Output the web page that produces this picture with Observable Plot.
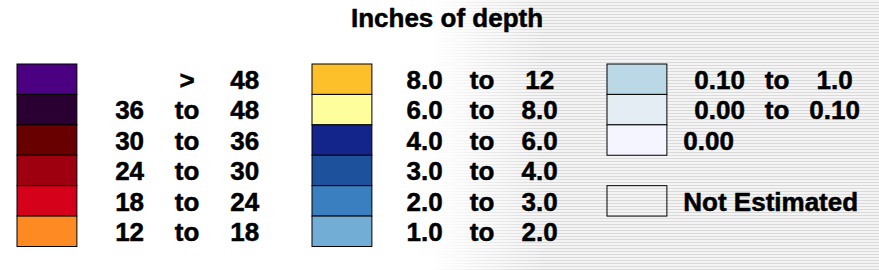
<!DOCTYPE html>
<html>
<head>
<meta charset="utf-8">
<script src="https://cdn.jsdelivr.net/npm/d3@7"></script>
<script src="https://cdn.jsdelivr.net/npm/@observablehq/plot@0.6"></script>
<style>
  html, body { margin: 0; padding: 0; }
  body {
    width: 879px; height: 270px; overflow: hidden;
    background:
      linear-gradient(to right, #ffffff 430px, rgba(255,255,255,0) 545px),
      repeating-linear-gradient(to bottom, #f4f4f4 0px, #f4f4f4 2px, #dadada 2px, #dadada 3px);
  }
  #chart svg { display: block; }
</style>
</head>
<body>
<div id="chart"></div>
<script>
const title = "Inches of depth";

// column 1
const col1Colors = ["#4b0082", "#2a0033", "#690000", "#9e000f", "#d5001a", "#fd8a22"];
const col1Lo = ["", "36", "30", "24", "18", "12"];
const col1Mid = [">", "to", "to", "to", "to", "to"];
const col1Hi = ["48", "48", "36", "30", "24", "18"];

// column 2
const col2Colors = ["#fdbf2a", "#feff9c", "#13248b", "#1d519c", "#3a80c0", "#72add5"];
const col2Lo = ["8.0", "6.0", "4.0", "3.0", "2.0", "1.0"];
const col2Mid = ["to", "to", "to", "to", "to", "to"];
const col2Hi = ["12", "8.0", "6.0", "4.0", "3.0", "2.0"];

// column 3
const col3Colors = ["#bad8e5", "#e4edf4", "#f4f5fe"];
const col3Lo = ["0.10", "0.00", ""];
const col3Mid = ["to", "to", ""];
const col3Hi = ["1.0", "0.10", ""];
const col3Single = ["", "", "0.00"];

const notEstimatedLabel = "Not Estimated";

const rows = [];
[[col1Colors, col1Lo, col1Mid, col1Hi], [col2Colors, col2Lo, col2Mid, col2Hi], [col3Colors, col3Lo, col3Mid, col3Hi]]
  .forEach(([colors, lo, mid, hi], c) => {
    colors.forEach((fill, r) => rows.push({col: c, row: r, fill, lo: lo[r], mid: mid[r], hi: hi[r], single: c === 2 ? col3Single[r] : ""}));
  });
const notEst = [{col: 2, row: 4, fill: "none", single: notEstimatedLabel}];
const swatches = rows.concat(notEst);

const SW = 0.203;   // swatch width in column units
const LO = 0.38, MID = 0.575, HI = 0.77, SINGLE = 0.257;

const textOpts = {fontSize: 26, fontWeight: "bold", fill: "#000", stroke: "#000", strokeWidth: 0.5, lineAnchor: "middle", dy: 1};

const plot = Plot.plot({
  width: 879,
  height: 270,
  margin: 0,
  style: {fontFamily: "'Liberation Sans', Arial, sans-serif", background: "transparent", color: "#000"},
  x: {type: "linear", domain: [0, 3], range: [17, 902], axis: null},
  y: {type: "linear", domain: [0, 6], range: [64, 246.5], axis: null},
  marks: [
    Plot.rect(swatches, {x1: "col", x2: d => d.col + SW, y1: "row", y2: d => d.row + 1, fill: "fill", stroke: "#000", strokeWidth: 1}),
    Plot.text(rows.filter(d => d.lo), {x: d => d.col + LO, y: d => d.row + 0.5, text: "lo", textAnchor: "middle", ...textOpts}),
    Plot.text(rows.filter(d => d.mid), {x: d => d.col + MID, y: d => d.row + 0.5, text: "mid", textAnchor: "middle", ...textOpts}),
    Plot.text(rows.filter(d => d.hi), {x: d => d.col + HI, y: d => d.row + 0.5, text: "hi", textAnchor: "middle", ...textOpts}),
    Plot.text(swatches.filter(d => d.single), {x: d => d.col + SINGLE, y: d => d.row + 0.5, text: "single", textAnchor: "start", ...textOpts}),
    Plot.text([title], {frameAnchor: "top", text: d => d, dx: 7, dy: 8, fontSize: 26, fontWeight: "bold", fill: "#000", stroke: "#000", strokeWidth: 0.5, lineAnchor: "top"})
  ]
});
document.getElementById("chart").appendChild(plot);
</script>
</body>
</html>
